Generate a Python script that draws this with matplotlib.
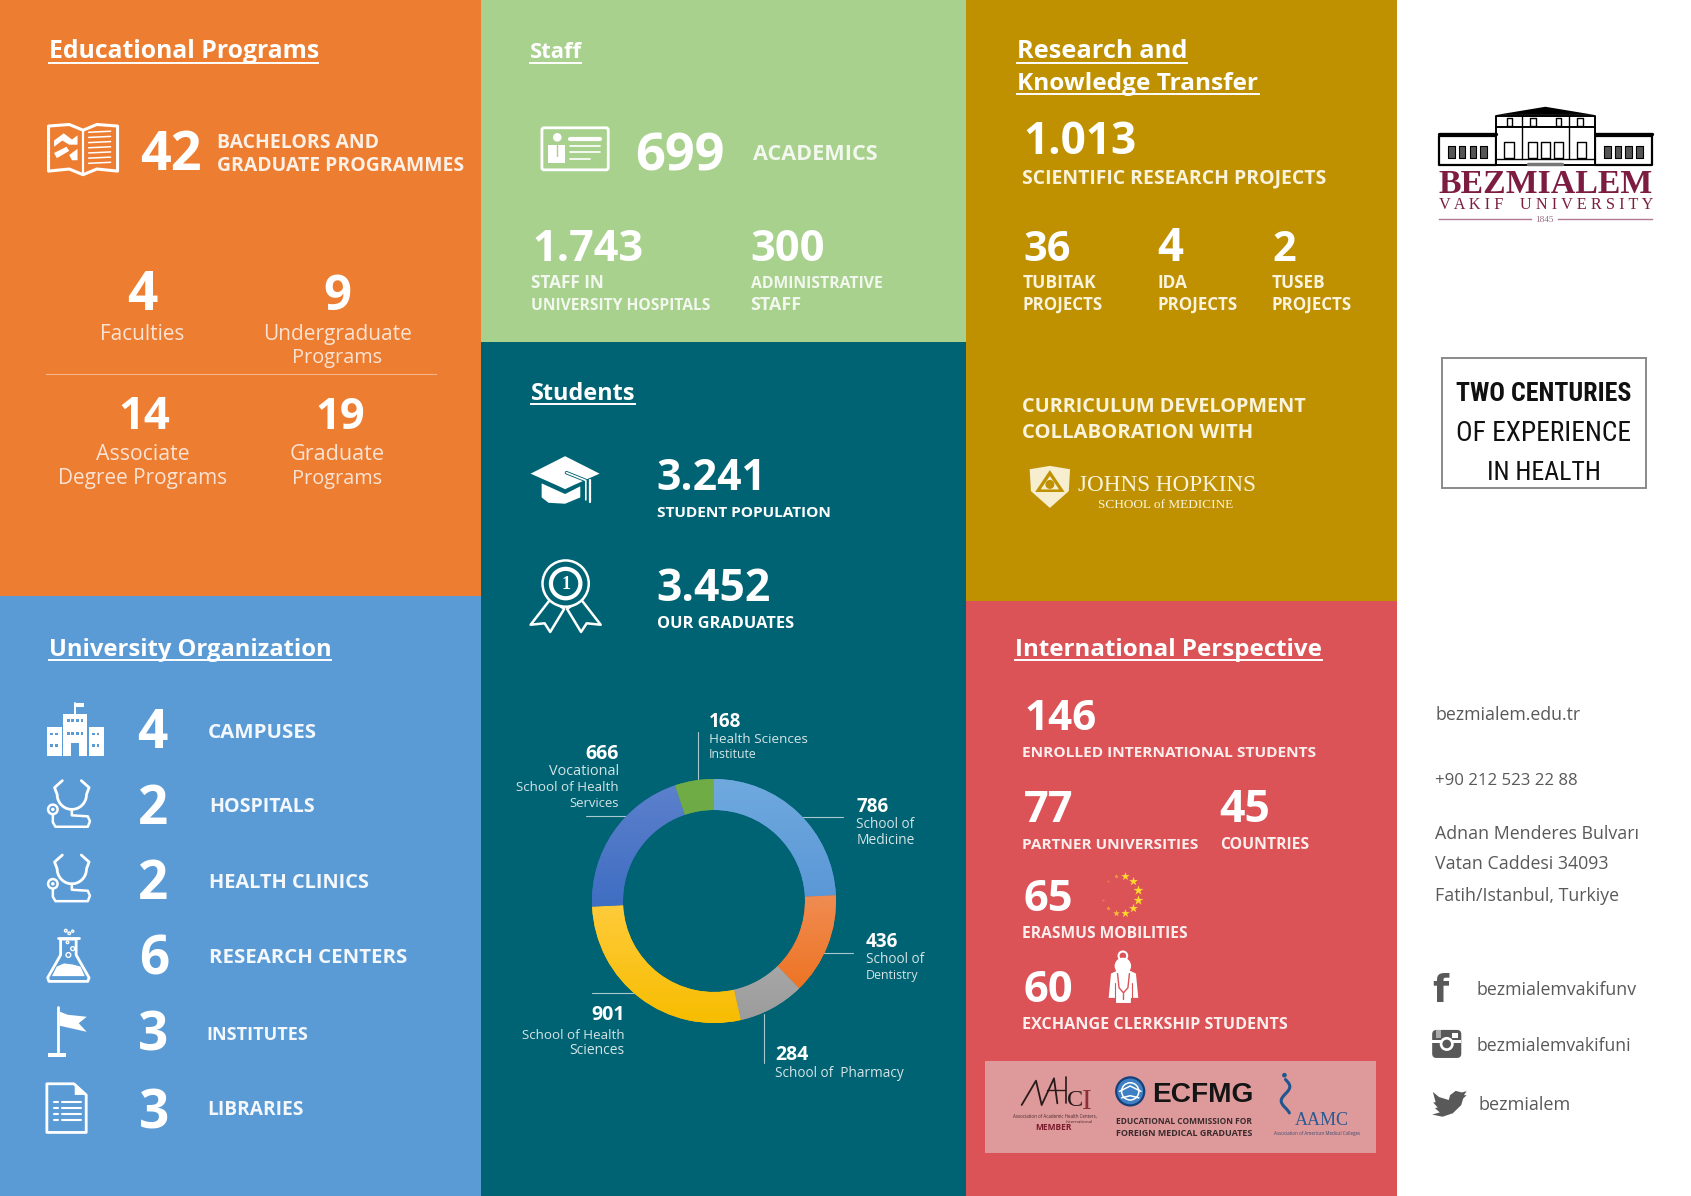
import numpy as np
import matplotlib
matplotlib.use('Agg')
import matplotlib.pyplot as plt
from matplotlib.patches import Rectangle, Circle, Polygon, FancyBboxPatch

# donut values
school_names = ['School of Medicine', 'School of Dentistry', 'School of Pharmacy',
                'School of Health Sciences', 'Vocational School of Health Services',
                'Health Sciences Institute']
student_counts = [786, 436, 284, 901, 666, 168]
slice_top = ['#6fa9de', '#f08c52', '#b4b4b4', '#ffcb3c', '#5c80cc', '#70ad47']
slice_bottom = ['#5a97d6', '#ee7424', '#9c9c9c', '#f7bd00', '#3f6ec2', '#6aa744']

org_counts = [4, 2, 2, 6, 3, 3]
org_labels = ['CAMPUSES', 'HOSPITALS', 'HEALTH CLINICS', 'RESEARCH CENTERS', 'INSTITUTES', 'LIBRARIES']

ORANGE = '#ed7d31'
BLUE = '#5b9bd5'
GREEN = '#a9d18e'
TEAL = '#006373'
GOLD = '#bf9000'
RED = '#db5257'
SCALE = 1691 / 1568

fig = plt.figure(figsize=(16.91, 11.96), dpi=100, facecolor='white')
ax = fig.add_axes([0, 0, 1, 1])
ax.set_xlim(0, 1568)
ax.set_ylim(1109, 0)
ax.axis('off')
renderer = fig.canvas.get_renderer()


def txt(x, y, s, w, weight='bold', ha='left', color='white', font='Open Sans', z=5):
    # text is scaled so it spans w units across
    t = ax.text(x, y, s, ha=ha, va='baseline', fontsize=20, fontweight=weight,
                color=color, family=font, zorder=z)
    width = t.get_window_extent(renderer).width
    t.set_fontsize(20 * w * SCALE / width)
    return t


def rect(x0, y0, x1, y1, color, z=1, **kw):
    ax.add_patch(Rectangle((x0, y0), x1 - x0, y1 - y0, facecolor=color, edgecolor='none', zorder=z, **kw))


def header(x, y, s, w):
    txt(x, y, s, w)
    ax.plot([x, x + w], [y + 4, y + 4], color='white', lw=1.4, zorder=5)


def unit(x0, y0, w, h):
    return lambda pts: [(x0 + u * w, y0 + v * h) for u, v in pts]


def poly(pts, fill='white', edge='none', lw=0, z=6, closed=True):
    ax.add_patch(Polygon(pts, closed=closed, facecolor=fill, edgecolor=edge, lw=lw, zorder=z, joinstyle='round'))


def line(pts, color='white', lw=1.5, z=6):
    xs, ys = zip(*pts)
    ax.plot(xs, ys, color=color, lw=lw, zorder=z, solid_capstyle='round', solid_joinstyle='round')


# panels
rect(0, 0, 446, 553, ORANGE)
rect(0, 553, 446, 1109, BLUE)
rect(446, 0, 896, 317, GREEN)
rect(446, 317, 896, 1109, TEAL)
rect(896, 0, 1295, 557, GOLD)
rect(896, 557, 1295, 1109, RED)


# icons
def book(x0, y0, w, h, bg):
    U = unit(x0, y0, w, h)
    poly(U([(.5, .14), (.3, .03), (0, .06), (0, .93), (.3, .89), (.5, 1), (.7, .89), (1, .93), (1, .06), (.7, .03)]),
         fill='none', edge='white', lw=2.2)
    line(U([(.5, .14), (.5, .98)]), lw=1.6)
    poly(U([(.08, .34), (.22, .2), (.34, .32), (.42, .24), (.42, .42), (.3, .42), (.2, .34), (.08, .46)]))
    poly(U([(.08, .58), (.26, .46), (.3, .54), (.12, .68)]))
    poly(U([(.3, .62), (.42, .5), (.42, .72), (.34, .72)]))
    for i in range(7):
        line(U([(.58, .18 + i * .1), (.9, .18 + i * .1 - .02)]), lw=1.1)


def id_card(x0, y0, w, h):
    ax.add_patch(FancyBboxPatch((x0 + 1, y0 + 1), w - 2, h - 2, boxstyle='round,pad=0,rounding_size=2',
                                facecolor='none', edgecolor='white', lw=2, zorder=6))
    U = unit(x0, y0, w, h)
    ax.add_patch(Circle(U([(.24, .24)])[0], 3.3, color='white', zorder=6))
    poly(U([(.11, .41), (.36, .41), (.36, .82), (.11, .82)]))
    line(U([(.24, .42), (.24, .66)]), color=GREEN, lw=1)
    line(U([(.43, .27), (.87, .27)]), lw=3)
    line(U([(.43, .44), (.87, .44)]), lw=1.2)
    line(U([(.43, .58), (.87, .58)]), lw=1.2)
    line(U([(.43, .72), (.72, .72)]), lw=1.2)


def grad_cap(x0, y0, w, h):
    U = unit(x0, y0, w, h)
    poly(U([(0, .36), (.5, 0), (1, .36), (.62, .6), (.5, .68), (.38, .6)]))
    poly(U([(.16, .56), (.5, .78), (.72, .62), (.72, .85), (.5, .98), (.26, .96), (.16, .85)]))
    line(U([(.52, .34), (.8, .5), (.8, .9)]), color=TEAL, lw=2.5, z=7)
    line(U([(.52, .34), (.8, .5), (.8, .9)]), lw=1.2, z=8)
    line(U([(.86, .5), (.86, .95)]), lw=1.6)


def medal(x0, y0, w, h):
    U = unit(x0, y0, w, h)
    c = U([(.5, .33)])[0]
    poly(U([(.28, .55), (0, .9), (.2, .88), (.28, 1), (.48, .68)]), fill=TEAL, edge='white', lw=1.8)
    poly(U([(.72, .55), (1, .9), (.8, .88), (.72, 1), (.52, .68)]), fill=TEAL, edge='white', lw=1.8)
    ax.add_patch(Circle(c, w * .33, facecolor=TEAL, edgecolor='white', lw=1.8, zorder=7))
    ax.add_patch(Circle(c, w * .24, facecolor='white', edgecolor='none', zorder=7))
    ax.add_patch(Circle(c, w * .19, facecolor=TEAL, edgecolor='white', lw=1, zorder=7))
    ax.text(c[0], c[1] + .5, '1', color='white', fontsize=13, fontweight='bold', family='Liberation Serif',
            ha='center', va='center', zorder=8)


def campus(x0, y0, w, h):
    U = unit(x0, y0, w, h)
    poly(U([(.29, .2), (.71, .2), (.71, 1), (.29, 1)]))
    poly(U([(0, .46), (.27, .46), (.27, 1), (0, 1)]))
    poly(U([(.73, .46), (1, .46), (1, 1), (.73, 1)]))
    line(U([(.5, .22), (.5, 0)]), lw=1.4)
    poly(U([(.5, 0), (.65, 0), (.65, .08), (.5, .08)]))
    for c in [(.06, .56), (.14, .56), (.06, .78), (.14, .78), (.79, .56), (.87, .56), (.79, .78), (.87, .78)]:
        poly(U([c, (c[0] + .05, c[1]), (c[0] + .05, c[1] + .05), (c[0], c[1] + .05)]), fill=BLUE)
    for v in [.3, .55]:
        for u in [.35, .43, .51, .59]:
            poly(U([(u, v), (u + .05, v), (u + .05, v + .05), (u, v + .05)]), fill=BLUE)
    poly(U([(.43, .76), (.57, .76), (.57, 1), (.43, 1)]), fill=BLUE)


def stethoscope(x0, y0, w, h):
    U = unit(x0, y0, w, h)
    t = np.linspace(0, np.pi, 30)
    arc = [(.68 * .5 + .24 + .34 * np.cos(a), .32 + .3 * np.sin(a)) for a in t]
    line(U([(.8, .04), (.98, .18)] + arc + [(.18, .18), (.36, .04)]), lw=2)
    line(U([(.58, .62), (.58, .74), (.95, .76), (1, .86), (.95, .97), (.2, .97), (.14, .88), (.14, .72)]), lw=1.8)
    ax.add_patch(Circle(U([(.14, .62)])[0], 4.4, facecolor=BLUE, edgecolor='white', lw=1.8, zorder=6))
    ax.add_patch(Circle(U([(.14, .62)])[0], 1, color='white', zorder=7))


def flask(x0, y0, w, h):
    U = unit(x0, y0, w, h)
    poly(U([(.32, .2), (.32, .5), (.02, .93), (.05, 1), (.95, 1), (.98, .93), (.68, .5), (.68, .2)]),
         fill='none', edge='white', lw=2)
    line(U([(.26, .17), (.74, .17)]), lw=2)
    poly(U([(.23, .72), (.4, .66), (.6, .68), (.78, .72), (.88, .9), (.12, .9)]))
    for u, v, r in [(.5, .5, 2.2), (.6, .38, 1.8), (.48, .26, 1.2), (.44, .04, 1.2), (.52, .09, 1.2), (.6, .05, 1)]:
        ax.add_patch(Circle(U([(u, v)])[0], r, facecolor='none', edgecolor='white', lw=1, zorder=6))


def flag(x0, y0, w, h):
    U = unit(x0, y0, w, h)
    line(U([(.27, 0), (.27, .9)]), lw=2)
    poly(U([(.02, .93), (.47, .93), (.47, 1), (.02, 1)]))
    poly(U([(.33, .1), (.52, .16), (1, .2), (.8, .33), (1, .5), (.55, .42), (.33, .38)]))


def document(x0, y0, w, h):
    U = unit(x0, y0, w, h)
    poly(U([(.02, .02), (.68, .02), (.98, .24), (.98, .98), (.02, .98)]), fill='none', edge='white', lw=2)
    poly(U([(.7, .03), (.97, .24), (.7, .24)]))
    for v in [.38, .5, .62, .74]:
        line(U([(.2, v), (.28, v)]), lw=1.5)
        line(U([(.38, v), (.85, v)]), lw=1.5)


def doctor(x0, y0, w, h):
    U = unit(x0, y0, w, h)
    ax.add_patch(Circle(U([(.48, .07)])[0], 4, facecolor=RED, edgecolor='white', lw=1.5, zorder=6))
    ax.add_patch(Circle(U([(.48, .27)])[0], 7, color='white', zorder=6))
    poly(U([(.08, .42), (.3, .36), (.7, .36), (.92, .42), (1, .9), (.75, .9), (.75, 1), (.25, 1), (.25, .9), (0, .9)]))
    line(U([(.3, .42), (.35, .7), (.5, .8), (.65, .7), (.7, .42)]), color=RED, lw=1)
    line(U([(.5, .8), (.5, .92)]), color=RED, lw=1)
    line(U([(.2, .6), (.2, .9)]), color=RED, lw=.8)
    line(U([(.8, .6), (.8, .9)]), color=RED, lw=.8)


def shield(x0, y0, w, h):
    U = unit(x0, y0, w, h)
    poly(U([(.02, .08), (.5, 0), (.98, .08), (.95, .6), (.5, 1), (.05, .6)]), fill='#f6eecf')
    poly(U([(.5, .1), (.85, .62), (.15, .62)]), fill=GOLD)
    poly(U([(.5, .24), (.72, .56), (.28, .56)]), fill='#f6eecf')
    ax.add_patch(Circle(U([(.5, .44)])[0], 3.5, color=GOLD, zorder=7))


def logo(x0, y0, w, h):
    U = unit(x0, y0, w, h)
    k = 'black'
    poly(U([(.27, .14), (.5, 0), (.73, .14)]), fill=k, z=7)
    poly(U([(.27, .15), (.73, .15), (.73, .35), (.27, .35)]), fill='white', edge=k, lw=1.4)
    poly(U([(0, .5), (.27, .5), (.27, 1), (0, 1)]), fill='white', edge=k, lw=1.6)
    poly(U([(.73, .5), (1, .5), (1, 1), (.73, 1)]), fill='white', edge=k, lw=1.6)
    poly(U([(.27, .35), (.73, .35), (.73, 1), (.27, 1)]), fill='white', edge=k, lw=1.4)
    line(U([(0, .47), (.27, .47)]), color=k, lw=2.4)
    line(U([(.73, .47), (1, .47)]), color=k, lw=2.4)
    line(U([(.39, .15), (.39, .9)]), color=k, lw=1)
    line(U([(.61, .15), (.61, .9)]), color=k, lw=1)
    for u in [.33, .44, .56, .66]:
        poly(U([(u - .01, .2), (u + .015, .2), (u + .015, .33), (u - .01, .33)]), fill='none', edge=k, lw=1)
    for u in [.06, .11, .16, .21, .79, .84, .89, .94]:
        poly(U([(u - .015, .68), (u + .015, .68), (u + .015, .88), (u - .015, .88)]), fill='#555555', edge=k, lw=.8)
    for u in [.33, .44, .5, .56, .67]:
        poly(U([(u - .022, .6), (u + .022, .6), (u + .022, .88), (u - .022, .88)]), fill='white', edge=k, lw=1)
    line(U([(.27, .9), (.73, .9)]), color=k, lw=1)
    line(U([(.42, .98), (.58, .98)]), color='#777777', lw=2.5)


def twitter(x0, y0, w, h):
    U = unit(x0, y0, w, h)
    poly(U([(.02, .06), (.2, .25), (.48, .36), (.52, .18), (.68, .02), (.86, .08), (1, .03), (.92, .18), (1, .18),
            (.9, .3), (.84, .55), (.6, .85), (.3, .98), (0, .9), (.22, .82), (.08, .66), (.16, .64), (.03, .45),
            (.1, .44)]), fill='#595959')


def instagram(x0, y0, w, h):
    ax.add_patch(FancyBboxPatch((x0, y0), w, h, boxstyle='round,pad=0,rounding_size=4', facecolor='#595959',
                                edgecolor='none', zorder=6))
    U = unit(x0, y0, w, h)
    poly(U([(0, .36), (1, .36), (1, .46), (0, .46)]), fill='white', z=7)
    ax.add_patch(Circle(U([(.5, .5)])[0], 6.5, facecolor='white', edgecolor='none', zorder=7))
    ax.add_patch(Circle(U([(.5, .5)])[0], 4, facecolor='#595959', edgecolor='none', zorder=8))
    poly(U([(.68, .1), (.9, .1), (.9, .28), (.68, .28)]), fill='white', z=7)
    poly(U([(.14, .02), (.3, .02), (.3, .3), (.14, .3)]), fill='#aaaaaa', z=7)


# Educational Programs
header(45, 54, 'Educational Programs', 250)
book(45, 114, 64, 48, ORANGE)
txt(130, 158, '42', 57)
txt(201, 137, 'BACHELORS AND', 150, color='#fdf0e6')
txt(201, 159, 'GRADUATE PROGRAMMES', 229, color='#fdf0e6')
soft = '#fbe3d3'
txt(132, 287, '4', 28, ha='center')
txt(313, 287, '9', 26, ha='center')
txt(132, 315, 'Faculties', 78, 'normal', 'center', soft)
txt(313, 315, 'Undergraduate', 138, 'normal', 'center', soft)
txt(313, 337, 'Programs', 83, 'normal', 'center', soft)
ax.plot([43, 404], [347, 347], color='#f6b48a', lw=.8, zorder=5)
txt(134, 398, '14', 48, ha='center')
txt(315, 398, '19', 46, ha='center')
txt(132, 427, 'Associate', 86, 'normal', 'center', soft)
txt(132, 449, 'Degree Programs', 156, 'normal', 'center', soft)
txt(313, 427, 'Graduate', 88, 'normal', 'center', soft)
txt(313, 449, 'Programs', 83, 'normal', 'center', soft)

# University Organization
header(45, 608, 'University Organization', 262)
campus(43.4, 652, 53, 49)
stethoscope(43.4, 722, 40, 46)
stethoscope(43.4, 791, 40, 46)
flask(43.4, 861, 40, 49)
flag(43.4, 933.5, 37, 46.5)
document(42.7, 1004, 38, 47)
org_x = [127, 128, 128, 129, 128, 129]
org_y = [694, 764, 834, 904, 974, 1046]
org_lx = [193, 194, 194, 194, 191, 192]
org_ly = [684, 753, 823, 893, 964, 1034]
org_lw = [101, 98, 149, 183, 94, 89]
for i in range(len(org_counts)):
    txt(org_x[i], org_y[i], str(org_counts[i]), 28)
    txt(org_lx[i], org_ly[i], org_labels[i], org_lw[i], color='#f4f8fc')

# Staff
header(491, 54, 'Staff', 48)
id_card(501.5, 117.5, 63.5, 41)
txt(589, 158, '699', 83)
txt(698, 148, 'ACADEMICS', 116, color='#f2f8ee')
txt(494, 242, '1.743', 103)
txt(696, 242, '300', 69)
txt(492, 267, 'STAFF IN', 68, color='#f2f8ee')
txt(492, 287, 'UNIVERSITY HOSPITALS', 167, color='#f2f8ee')
txt(696, 267, 'ADMINISTRATIVE', 122, color='#f2f8ee')
txt(696, 287, 'STAFF', 47, color='#f2f8ee')

# Students
header(492, 371, 'Students', 97)
grad_cap(492, 423, 64, 45)
medal(492, 519, 65, 67)
txt(609, 454, '3.241', 102)
txt(609, 479, 'STUDENT POPULATION', 162)
txt(609, 557, '3.452', 106)
txt(609, 582, 'OUR GRADUATES', 127)

# donut
cx, cy, r = 714, 901, 122
dax = fig.add_axes([(cx - r) / 1691, 1 - (cy + r) / 1196, 2 * r / 1691, 2 * r / 1196])
wedges, _ = dax.pie(student_counts, startangle=90, counterclock=False, radius=1, colors=slice_bottom,
                    wedgeprops=dict(width=.254, linewidth=0))
for wedge, top, bottom in zip(wedges, slice_top, slice_bottom):
    ys = wedge.get_patch_transform().transform_path(wedge.get_path()).vertices[:, 1]
    c0 = np.array(matplotlib.colors.to_rgb(top))
    c1 = np.array(matplotlib.colors.to_rgb(bottom))
    grad = np.linspace(c0, c1, 64)[:, None, :]
    im = dax.imshow(grad, extent=(-1.05, 1.05, ys.min(), ys.max()), aspect='auto', zorder=3, origin='upper')
    im.set_clip_path(wedge)
dax.set_xlim(-1, 1)
dax.set_ylim(-1, 1)
dax.axis('off')
dax.patch.set_alpha(0)

for pts in [[(745, 757.5), (782, 757.5)], [(763, 884), (791, 884)], [(708.5, 940), (708.5, 986)],
            [(549, 921), (587, 921)], [(543, 756.5), (583, 756.5)], [(647, 679), (647, 722)]]:
    line(pts, color='#a9c8cd', lw=.8, z=3)

soft2 = '#d5e4e6'
txt(657, 674, '168', 30)
txt(657, 689, 'Health Sciences', 91, 'normal', color=soft2)
txt(657, 703, 'Institute', 44, 'normal', color=soft2)
txt(574, 704, '666', 31, ha='right')
txt(574, 719, 'Vocational', 65, 'normal', 'right', soft2)
txt(574, 733, 'School of Health', 95, 'normal', 'right', soft2)
txt(574, 748, 'Services', 46, 'normal', 'right', soft2)
txt(794, 753, '786', 30)
txt(794, 768, 'School of', 54, 'normal', color=soft2)
txt(794, 783, 'Medicine', 54, 'normal', color=soft2)
txt(803, 878, '436', 30)
txt(803, 893, 'School of', 54, 'normal', color=soft2)
txt(803, 908, 'Dentistry', 49, 'normal', color=soft2)
txt(579, 946, '901', 31, ha='right')
txt(579, 963, 'School of Health', 95, 'normal', 'right', soft2)
txt(579, 977, 'Sciences', 51, 'normal', 'right', soft2)
txt(719, 983, '284', 31)
txt(719, 999, 'School of  Pharmacy', 119, 'normal', color=soft2)

# Research and Knowledge Transfer
header(943, 54, 'Research and', 158)
header(943, 83, 'Knowledge Transfer', 224)
cream = '#fbf4dd'
txt(949, 143, '1.013', 105)
txt(948, 170, 'SCIENTIFIC RESEARCH PROJECTS', 281, color=cream)
txt(949, 242, '36', 44)
txt(1073, 242, '4', 24)
txt(1180, 242, '2', 22)
txt(948, 267, 'TUBITAK', 68, color=cream)
txt(948, 287, 'PROJECTS', 74, color=cream)
txt(1073, 267, 'IDA', 28, color=cream)
txt(1073, 287, 'PROJECTS', 74, color=cream)
txt(1179, 267, 'TUSEB', 50, color=cream)
txt(1179, 287, 'PROJECTS', 74, color=cream)
txt(948, 382, 'CURRICULUM DEVELOPMENT', 265, color=cream)
txt(948, 406, 'COLLABORATION WITH', 214, color=cream)
shield(954, 432, 39, 39)
txt(1000, 455, 'JOHNS HOPKINS', 165, 'normal', color=cream, font='Liberation Serif')
txt(1018, 471, 'SCHOOL of MEDICINE', 125, 'normal', color=cream, font='Liberation Serif')

# International Perspective
header(941, 608, 'International Perspective', 285)
pale = '#fdeeee'
txt(950, 677, '146', 67)
txt(948, 702, 'ENROLLED INTERNATIONAL STUDENTS', 273, color=pale)
txt(949, 762, '77', 46)
txt(1131, 762, '45', 47)
txt(948, 787, 'PARTNER UNIVERSITIES', 164, color=pale)
txt(1131, 787, 'COUNTRIES', 83, color=pale)
txt(949, 845, '65', 46)
txt(948, 870, 'ERASMUS MOBILITIES', 154, color=pale)
txt(949, 929, '60', 46)
txt(948, 954, 'EXCHANGE CLERKSHIP STUDENTS', 245, color=pale)
doctor(1028, 883, 27.5, 47)

# eu stars, fading on the left
for deg, a, s in [(-90, 1, 40), (-60, 1, 45), (-30, 1, 55), (0, 1, 55), (30, 1, 45), (60, 1, 40), (90, .85, 25),
                  (120, .6, 12), (150, .35, 6), (-120, .6, 12), (-150, .35, 6)]:
    xs = 1039 + 17 * np.cos(np.radians(deg + 15))
    ys = 829.5 + 18 * np.sin(np.radians(deg + 15))
    ax.scatter([xs], [ys], marker='*', s=s, color='#ffd92e', alpha=a, linewidths=0, zorder=6)

# partner logos
rect(913.6, 983.6, 1276, 1069, '#de9a9b', z=2)


def Z(x, y):
    # position in the partner logo strip
    return ((x / 3 + 960) / SCALE, (y / 3 + 1040) / SCALE)


line([Z(185, 195), Z(228, 122), Z(245, 195), Z(282, 115), Z(292, 190)], color='#2a1a1a', lw=1.3)
line([Z(262, 150), Z(316, 150)], color='#2a1a1a', lw=1)
line([Z(318, 112), Z(318, 190)], color='#2a1a1a', lw=1.2)
txt(*Z(322, 198), 'C', 15, 'normal', color='#2a1a1a', font='Liberation Serif')
txt(*Z(366, 208), 'I', 9, 'normal', color='#8b3038', font='Liberation Serif')
txt(978, 1036, 'Association of Academic Health Centers,', 79, 'normal', 'center', '#4a2a2c')
txt(988, 1041, 'International', 25, 'normal', color='#4a2a2c')
txt(977, 1048, 'MEMBER', 34, 'bold', 'center', '#7a1a2c')
ax.add_patch(Circle((1048, 1012), 13, facecolor='#3f7fc4', edgecolor='#15407a', lw=1.6, zorder=6))
ax.add_patch(Circle((1048, 1012), 8, facecolor='none', edgecolor='white', lw=1.1, zorder=7))
line([(1038, 1012), (1048, 1007), (1058, 1012)], lw=1.1, z=7)
line([(1040, 1018), (1048, 1016), (1056, 1018)], lw=1.1, z=7)
txt(1068, 1022, 'ECFMG', 94, 'bold', color='#141414', font='Liberation Sans')
txt(1035, 1042, 'EDUCATIONAL COMMISSION FOR', 127, 'bold', color='#3a2a2c')
txt(1035, 1053, 'FOREIGN MEDICAL GRADUATES', 127, 'bold', color='#3a2a2c')
sv = np.linspace(1001, 1032, 40)
line([(1192 + 4 * np.sin((v - 1001) / 4.2), v) for v in sv], color='#1f5690', lw=2.2)
ax.add_patch(Circle((1191, 997), 1.5, color='#1f5690', zorder=6))
txt(1201, 1043, 'AAMC', 50, 'normal', color='#2b5a92', font='Liberation Serif')
txt(1181.6, 1052, 'Association of American Medical Colleges', 80, 'normal', color='#3d4a72')

# right column
logo(1334, 99, 198, 54)
wine = '#7c1c40'
txt(1334, 179, 'BEZMIALEM', 198, 'bold', color=wine, font='Liberation Serif')
txt(1334, 194, 'V A K I F    U N I V E R S I T Y', 198, 'normal', color=wine, font='Liberation Serif')
ax.plot([1334, 1420], [203, 203], color='#b07a90', lw=1, zorder=5)
ax.plot([1445, 1532], [203, 203], color='#b07a90', lw=1, zorder=5)
txt(1432.5, 206, '1845', 17, 'normal', 'center', '#9a6a80', 'Liberation Serif')
ax.add_patch(Rectangle((1337, 332), 189.5, 120.5, facecolor='white', edgecolor='#8a8a8a', lw=1.4, zorder=3))
narrow = ['Liberation Sans Narrow', 'Roboto Condensed', 'Roboto']
txt(1431.5, 372, 'TWO CENTURIES', 162, 'bold', 'center', '#111111', narrow)
txt(1431.5, 409, 'OF EXPERIENCE', 162, 'normal', 'center', '#111111', narrow)
txt(1431.5, 445, 'IN HEALTH', 105, 'normal', 'center', '#111111', narrow)

gray = '#595959'
txt(1331, 668, 'bezmialem.edu.tr', 135, 'normal', color=gray)
txt(1331, 728, '+90 212 523 22 88', 132, 'normal', color=gray)
txt(1331, 778, 'Adnan Menderes Bulvar\u0131', 188, 'normal', color=gray)
txt(1331, 806, 'Vatan Caddesi 34093', 160, 'normal', color=gray)
txt(1331, 835, 'Fatih/Istanbul, Turkiye', 170, 'normal', color=gray)
txt(1328, 929, 'f', 15, 'bold', color=gray, font='DejaVu Sans')
instagram(1328, 955, 27, 26)
twitter(1328, 1011, 32, 25)
txt(1369, 923, 'bezmialemvakifunv', 148, 'normal', color=gray)
txt(1369, 975, 'bezmialemvakifuni', 143, 'normal', color=gray)
txt(1371, 1029, 'bezmialem', 85, 'normal', color=gray)

fig.savefig('out.png', dpi=100, facecolor='white')
